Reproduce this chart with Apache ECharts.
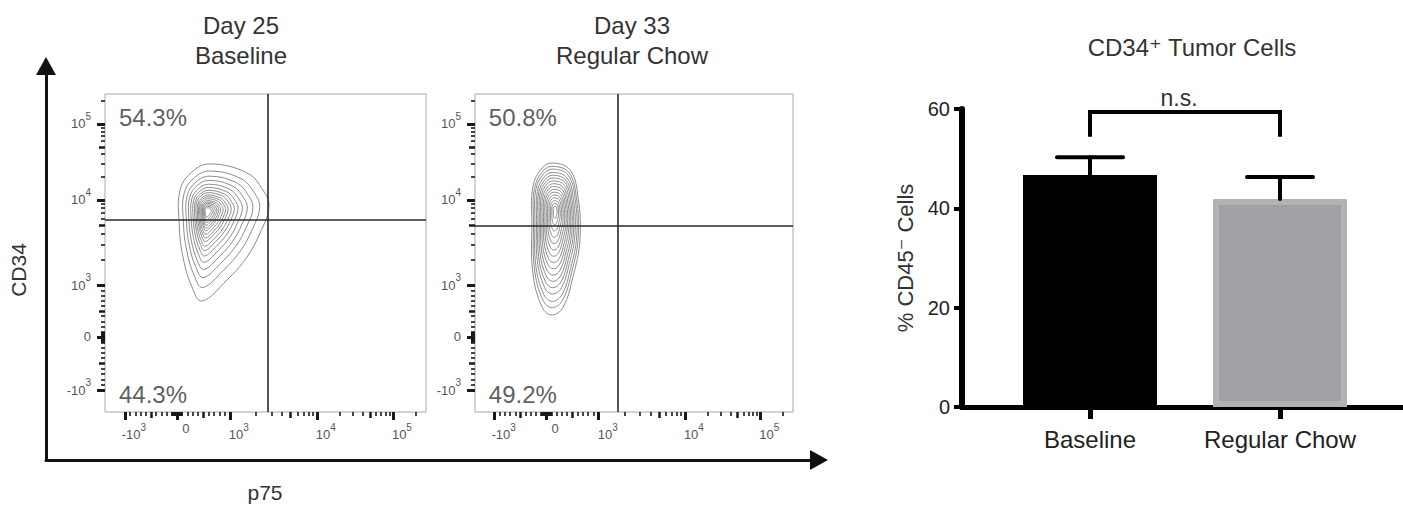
<!DOCTYPE html>
<html><head><meta charset="utf-8">
<script src="https://cdn.jsdelivr.net/npm/echarts@6/dist/echarts.min.js"></script>
<style>html,body{margin:0;padding:0;background:#fff}#c{width:1403px;height:508px}</style>
</head><body><div id="c"></div>
<script>
// ---------------- data ----------------
const flowTitles = ['Day 25\nBaseline', 'Day 33\nRegular Chow'];
const flowUpperPct = ['54.3%', '50.8%'];
const flowLowerPct = ['44.3%', '49.2%'];
const axisTickLabels = ['-10³', '0', '10³', '10⁴', '10⁵'];
// display-channel (0..1000) positions of -10^3, 0, 10^3, 10^4, 10^5
const xTickChannels = [62, 224, 389, 660, 897];
const yTickChannels = [69, 236, 399, 667, 906];
// gate positions (channels) for each plot
const gateX = [508, 450];
const gateY = [604, 585];
// contour outlines (channels), their density peak and nested contour levels
const contourOuter1 = [[327,780],[442,752],[492,698],[511,645],[483,563],[442,487],[380,415],[302,349],[271,393],[243,487],[231,594],[234,698],[271,755]];
const contourCenter1 = [318, 632];
const contourLevels1 = [1, .85, .74, .65, .57, .50, .44, .39, .34, .30, .26, .22, .19, .16, .13, .10, .07];
const contourOuter2 = [[245,783],[299,761],[324,676],[330,541],[308,425],[277,330],[242,305],[211,330],[182,437],[179,594],[182,708],[211,767]];
const contourCenter2 = [252, 635];
const contourLevels2 = [1, .93, .87, .80, .74, .68, .62, .56, .50, .44, .38, .32, .26, .20, .14, .08];
// biexponential minor/mid tick values
const midTickValues = [-500, 500, 5000, 50000];
const minorTickValues = [-900,-800,-700,-600,-400,-300,-200,-100,-90,-80,-70,-60,-50,-40,-30,-20,-10,
  10,20,30,40,50,60,70,80,90,100,200,300,400,600,700,800,900,
  2000,3000,4000,6000,7000,8000,9000,20000,30000,40000,60000,70000,80000,90000,200000];

const barCategories = ['Baseline', 'Regular Chow'];
const barMeans = [46.7, 41.9];
const barErrors = [3.6, 4.4];
const sigLabel = 'n.s.';
const sigLevel = [59.4, 54.4];

// ---------------- helpers ----------------
function chan(v, c) {
  if (v <= 0) return c[1] + (v / 1000) * (c[1] - c[0]);
  if (v <= 1000) return c[1] + (v / 1000) * (c[2] - c[1]);
  const d = Math.log10(v) - 3;
  if (d <= 1) return c[2] + d * (c[3] - c[2]);
  return c[3] + (d - 1) * (c[4] - c[3]);
}
const SUP = {'³': '3', '⁴': '4', '⁵': '5'};
function richTick(lbl) {
  const m = lbl.match(/^([^³⁴⁵]+)([³⁴⁵])?$/);
  return '{b|' + m[1] + '}' + (m[2] ? '{s|' + SUP[m[2]] + '}' : '');
}
const FONT = 'Liberation Sans, Arial, DejaVu Sans, sans-serif';
const tickRich = {
  b: {fontSize: 13, color: '#555', fontFamily: FONT},
  s: {fontSize: 10, color: '#555', fontFamily: FONT, padding: [0, 0, 15, 0]}
};
const grids = [
  {left: 105, top: 94, width: 321, height: 318, show: true, borderColor: '#a8a8a8', borderWidth: 1},
  {left: 475, top: 94, width: 318, height: 318, show: true, borderColor: '#a8a8a8', borderWidth: 1},
  {left: 962, top: 109, right: 0, bottom: 101},
  {left: 46, top: 66, right: 584, bottom: 48}
];
const xAxes = [], yAxes = [];
function flowAxes(g) {
  const tiers = [
    {vals: null, len: 8, w: 3, labels: true},
    {vals: midTickValues, len: 6, w: 2.5, labels: false},
    {vals: minorTickValues, len: 4, w: 1.6, labels: false}
  ];
  tiers.forEach(t => {
    ['x', 'y'].forEach(dim => {
      const tc = dim === 'x' ? xTickChannels : yTickChannels;
      const vals = t.vals ? t.vals.map(v => chan(v, tc)) : tc;
      const ax = {
        type: 'value', gridIndex: g, min: 0, max: 1000,
        position: dim === 'x' ? 'bottom' : 'left',
        axisLine: {show: false}, splitLine: {show: false},
        axisTick: {show: true, customValues: vals, length: t.len, lineStyle: {color: '#1a1a1a', width: t.w}},
        axisLabel: t.labels ? {
          show: true, customValues: tc, rich: tickRich,
          margin: dim === 'x' ? 10 : 14,
          padding: dim === 'x' ? [0, 0, 0, 18] : 0,
          formatter: v => richTick(axisTickLabels[tc.indexOf(v)])
        } : {show: false}
      };
      (dim === 'x' ? xAxes : yAxes).push(ax);
    });
  });
}
flowAxes(0); flowAxes(1);
// bar chart axes (index 6)
xAxes.push({
  type: 'value', gridIndex: 2, min: -0.6737, max: 1.6474,
  axisLine: {show: true, onZero: false, lineStyle: {color: '#000', width: 5}},
  axisTick: {show: true, customValues: [0, 1], length: 12, lineStyle: {color: '#000', width: 5}},
  axisLabel: {show: true, customValues: [0, 1], formatter: v => barCategories[v], fontSize: 24, color: '#222', margin: 20, fontFamily: FONT},
  splitLine: {show: false}
});
yAxes.push({
  type: 'value', gridIndex: 2, min: 0, max: 60, interval: 20,
  axisLine: {show: true, onZero: false, lineStyle: {color: '#000', width: 6}},
  axisTick: {show: true, length: 8, lineStyle: {color: '#000', width: 4}},
  axisLabel: {fontSize: 20, color: '#222', margin: 12, fontFamily: FONT},
  splitLine: {show: false},
  name: '% CD45⁻ Cells', nameLocation: 'middle', nameRotate: 90, nameGap: 46,
  nameTextStyle: {fontSize: 22, color: '#333', fontFamily: FONT}
});
// arrow axes (index 7)
xAxes.push({
  type: 'value', gridIndex: 3, min: 0, max: 1,
  axisLine: {show: true, onZero: false, symbol: ['none', 'triangle'], symbolSize: [20, 18], lineStyle: {color: '#111', width: 3}},
  axisTick: {show: false}, axisLabel: {show: false}, splitLine: {show: false}
});
yAxes.push({
  type: 'value', gridIndex: 3, min: 0, max: 1,
  axisLine: {show: true, onZero: false, symbol: ['none', 'triangle'], symbolSize: [20, 18], lineStyle: {color: '#111', width: 3}},
  axisTick: {show: false}, axisLabel: {show: false}, splitLine: {show: false}
});

function contourSeries(p, outer, center, levels) {
  return {
    type: 'custom', xAxisIndex: p * 3, yAxisIndex: p * 3, silent: true,
    data: levels.map((s, i) => [i, s]),
    renderItem: (params, api) => {
      const s = api.value(1);
      const pts = outer.map(q => api.coord([center[0] + s * (q[0] - center[0]), center[1] + s * (q[1] - center[1])]));
      return {type: 'polygon', shape: {points: pts, smooth: 0.4},
        style: {fill: 'none', stroke: '#8c8c8c', lineWidth: 1}};
    },
    markLine: {
      silent: true, symbol: ['none', 'none'], label: {show: false},
      lineStyle: {color: '#2a2a2a', width: 1.6, type: 'solid'},
      data: [{xAxis: gateX[p]}, {yAxis: gateY[p]}]
    }
  };
}
function pctSeries(p) {
  return {
    type: 'scatter', xAxisIndex: p * 3, yAxisIndex: p * 3, symbolSize: 1, silent: true,
    itemStyle: {color: 'rgba(0,0,0,0)'},
    data: [[45, 925, flowUpperPct[p]], [45, 53, flowLowerPct[p]]],
    label: {show: true, position: [0, 0], align: 'left', verticalAlign: 'middle',
      formatter: d => d.value[2], fontSize: 24, color: '#333', fontFamily: FONT}
  };
}

const series = [
  contourSeries(0, contourOuter1, contourCenter1, contourLevels1),
  contourSeries(1, contourOuter2, contourCenter2, contourLevels2),
  pctSeries(0), pctSeries(1),
  {
    type: 'bar', xAxisIndex: 6, yAxisIndex: 6, barWidth: 134, silent: true,
    data: barMeans.map((m, i) => ({value: [i, m], itemStyle: i === 0
      ? {color: '#000', borderColor: '#000', borderWidth: 6}
      : {color: '#a1a1a5', borderColor: '#b2b2b2', borderWidth: 6}}))
  },
  {
    type: 'custom', xAxisIndex: 6, yAxisIndex: 6, silent: true, z: 5,
    data: barMeans.map((m, i) => [i, m, barErrors[i]]),
    renderItem: (params, api) => {
      const x = api.value(0), m = api.value(1), e = api.value(2);
      const b = api.coord([x, m]), t = api.coord([x, m + e]);
      const st = {stroke: '#000', lineWidth: 4, lineCap: 'round'};
      return {type: 'group', children: [
        {type: 'line', shape: {x1: b[0], y1: b[1], x2: t[0], y2: t[1]}, style: st},
        {type: 'line', shape: {x1: t[0] - 33, y1: t[1], x2: t[0] + 33, y2: t[1]}, style: st}
      ]};
    }
  },
  {
    type: 'custom', xAxisIndex: 6, yAxisIndex: 6, silent: true, clip: false,
    data: [[0, 1]],
    renderItem: (params, api) => {
      const a = api.coord([api.value(0), sigLevel[0]]), b = api.coord([api.value(1), sigLevel[0]]);
      const a2 = api.coord([api.value(0), sigLevel[1]]), b2 = api.coord([api.value(1), sigLevel[1]]);
      return {type: 'group', children: [
        {type: 'polyline', shape: {points: [a2, a, b, b2]}, style: {stroke: '#000', lineWidth: 4, fill: 'none', lineJoin: 'miter'}},
        {type: 'text', x: (a[0] + b[0]) / 2 - 6, y: a[1] - 14, style: {text: sigLabel, fontSize: 23, fill: '#333', align: 'center', verticalAlign: 'middle', fontFamily: FONT}}
      ]};
    }
  }
];

const texts = [
  {type: 'text', x: 241, y: 40, style: {text: flowTitles[0], fontSize: 24, lineHeight: 30, fill: '#333', align: 'center', verticalAlign: 'middle', fontFamily: FONT}},
  {type: 'text', x: 632, y: 40, style: {text: flowTitles[1], fontSize: 24, lineHeight: 30, fill: '#333', align: 'center', verticalAlign: 'middle', fontFamily: FONT}},
  {type: 'text', x: 18, y: 270, rotation: Math.PI / 2, style: {text: 'CD34', fontSize: 21, fill: '#333', align: 'center', verticalAlign: 'middle', fontFamily: FONT}},
  {type: 'text', x: 265, y: 492, style: {text: 'p75', fontSize: 21, fill: '#333', align: 'center', verticalAlign: 'middle', fontFamily: FONT}},
  {type: 'text', x: 1192, y: 47, style: {text: 'CD34⁺ Tumor Cells', fontSize: 24, fill: '#333', align: 'center', verticalAlign: 'middle', fontFamily: FONT}}
];

const chart = echarts.init(document.getElementById('c'), null, {renderer: 'svg'});
chart.setOption({
  animation: false,
  backgroundColor: '#fff',
  grid: grids,
  xAxis: xAxes,
  yAxis: yAxes,
  series: series,
  graphic: texts
});
</script></body></html>
